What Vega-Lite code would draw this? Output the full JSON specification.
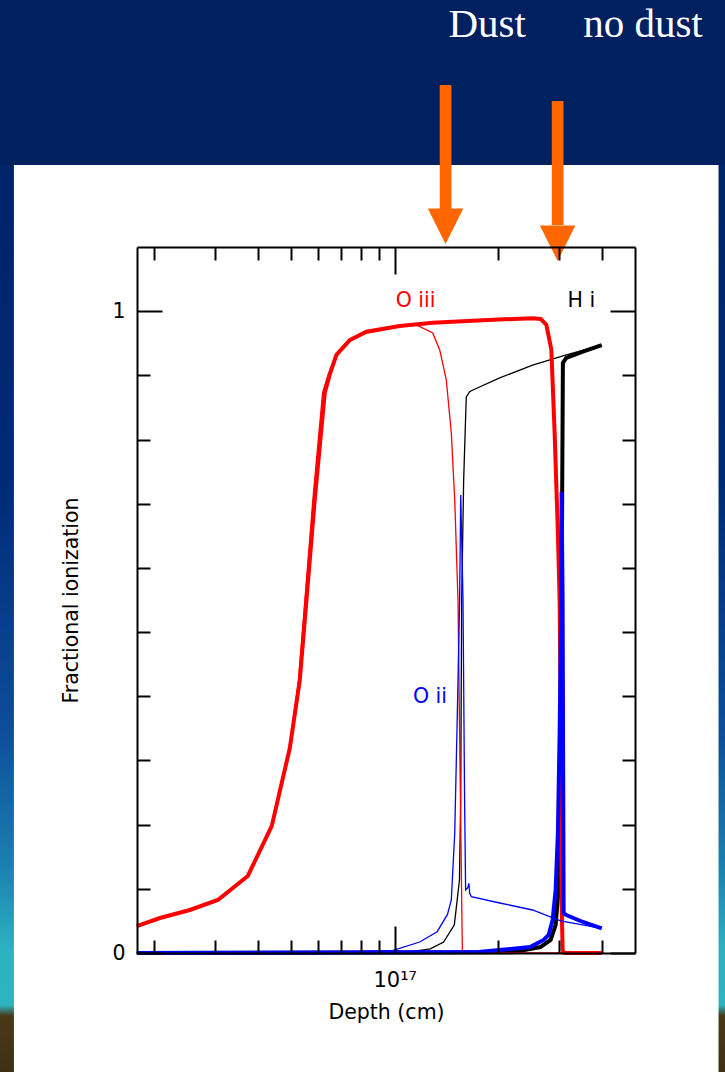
{
  "$schema": "https://vega.github.io/schema/vega-lite/v6.json",
  "width": 498,
  "height": 706,
  "autosize": {"type": "none"},
  "padding": {"left": 137, "top": 247, "right": 90, "bottom": 119},
  "background": "#002060",
  "config": {
    "view": {"stroke": null},
    "axis": {
      "grid": false,
      "tickColor": "black",
      "tickWidth": 2,
      "domainColor": "black",
      "domainWidth": 2,
      "labelFont": "DejaVu Sans",
      "labelFontSize": 20.5,
      "labelColor": "black",
      "titleFont": "DejaVu Sans",
      "titleFontSize": 20.5,
      "titleFontWeight": "normal",
      "titleColor": "black"
    }
  },
  "resolve": {"axis": {"x": "independent", "y": "independent"}},
  "datasets": {
    "curves": [
      {"species": "H i", "model": "no dust", "depth": 1.778e16, "frac": 0},
      {"species": "H i", "model": "no dust", "depth": 2.203e17, "frac": 0.0011},
      {"species": "H i", "model": "no dust", "depth": 2.654e17, "frac": 0.0093},
      {"species": "H i", "model": "no dust", "depth": 2.841e17, "frac": 0.0203},
      {"species": "H i", "model": "no dust", "depth": 2.938e17, "frac": 0.0436},
      {"species": "H i", "model": "no dust", "depth": 2.997e17, "frac": 0.0982},
      {"species": "H i", "model": "no dust", "depth": 3.038e17, "frac": 0.238},
      {"species": "H i", "model": "no dust", "depth": 3.058e17, "frac": 0.55},
      {"species": "H i", "model": "no dust", "depth": 3.085e17, "frac": 0.9193},
      {"species": "H i", "model": "no dust", "depth": 3.156e17, "frac": 0.9271},
      {"species": "H i", "model": "no dust", "depth": 3.527e17, "frac": 0.9369},
      {"species": "H i", "model": "no dust", "depth": 4e17, "frac": 0.947},

      {"species": "H i", "model": "dust", "depth": 1.778e16, "frac": 0},
      {"species": "H i", "model": "dust", "depth": 1.105e17, "frac": 0.0016},
      {"species": "H i", "model": "dust", "depth": 1.269e17, "frac": 0.0064},
      {"species": "H i", "model": "dust", "depth": 1.388e17, "frac": 0.0171},
      {"species": "H i", "model": "dust", "depth": 1.491e17, "frac": 0.0439},
      {"species": "H i", "model": "dust", "depth": 1.543e17, "frac": 0.1137},
      {"species": "H i", "model": "dust", "depth": 1.556e17, "frac": 0.238},
      {"species": "H i", "model": "dust", "depth": 1.566e17, "frac": 0.55},
      {"species": "H i", "model": "dust", "depth": 1.587e17, "frac": 0.737},
      {"species": "H i", "model": "dust", "depth": 1.615e17, "frac": 0.8663},
      {"species": "H i", "model": "dust", "depth": 1.652e17, "frac": 0.8746},
      {"species": "H i", "model": "dust", "depth": 1.689e17, "frac": 0.8772},
      {"species": "H i", "model": "dust", "depth": 2.02e17, "frac": 0.896},
      {"species": "H i", "model": "dust", "depth": 2.518e17, "frac": 0.916},
      {"species": "H i", "model": "dust", "depth": 3.156e17, "frac": 0.932},
      {"species": "H i", "model": "dust", "depth": 4e17, "frac": 0.947},

      {"species": "O iii", "model": "no dust", "depth": 1.778e16, "frac": 0.042},
      {"species": "O iii", "model": "no dust", "depth": 2.075e16, "frac": 0.0545},
      {"species": "O iii", "model": "no dust", "depth": 2.536e16, "frac": 0.067},
      {"species": "O iii", "model": "no dust", "depth": 3.059e16, "frac": 0.0826},
      {"species": "O iii", "model": "no dust", "depth": 3.739e16, "frac": 0.12},
      {"species": "O iii", "model": "no dust", "depth": 4.39e16, "frac": 0.198},
      {"species": "O iii", "model": "no dust", "depth": 4.952e16, "frac": 0.319},
      {"species": "O iii", "model": "no dust", "depth": 5.295e16, "frac": 0.425},
      {"species": "O iii", "model": "no dust", "depth": 5.538e16, "frac": 0.55},
      {"species": "O iii", "model": "no dust", "depth": 5.854e16, "frac": 0.706},
      {"species": "O iii", "model": "no dust", "depth": 6.26e16, "frac": 0.873},
      {"species": "O iii", "model": "no dust", "depth": 6.471e16, "frac": 0.901},
      {"species": "O iii", "model": "no dust", "depth": 6.769e16, "frac": 0.932},
      {"species": "O iii", "model": "no dust", "depth": 7.4e16, "frac": 0.955},
      {"species": "O iii", "model": "no dust", "depth": 8.274e16, "frac": 0.968},
      {"species": "O iii", "model": "no dust", "depth": 1.034e17, "frac": 0.977},
      {"species": "O iii", "model": "no dust", "depth": 1.29e17, "frac": 0.982},
      {"species": "O iii", "model": "no dust", "depth": 1.803e17, "frac": 0.986},
      {"species": "O iii", "model": "no dust", "depth": 2.518e17, "frac": 0.989},
      {"species": "O iii", "model": "no dust", "depth": 2.658e17, "frac": 0.988},
      {"species": "O iii", "model": "no dust", "depth": 2.761e17, "frac": 0.979},
      {"species": "O iii", "model": "no dust", "depth": 2.855e17, "frac": 0.94},
      {"species": "O iii", "model": "no dust", "depth": 2.919e17, "frac": 0.81},
      {"species": "O iii", "model": "no dust", "depth": 2.983e17, "frac": 0.654},
      {"species": "O iii", "model": "no dust", "depth": 3.018e17, "frac": 0.55},
      {"species": "O iii", "model": "no dust", "depth": 3.038e17, "frac": 0.394},
      {"species": "O iii", "model": "no dust", "depth": 3.058e17, "frac": 0.0826},
      {"species": "O iii", "model": "no dust", "depth": 3.079e17, "frac": 0.0047},
      {"species": "O iii", "model": "no dust", "depth": 3.12e17, "frac": 0},
      {"species": "O iii", "model": "no dust", "depth": 4e17, "frac": 0},

      {"species": "O iii", "model": "dust", "depth": 1.778e16, "frac": 0.042},
      {"species": "O iii", "model": "dust", "depth": 2.075e16, "frac": 0.0545},
      {"species": "O iii", "model": "dust", "depth": 2.536e16, "frac": 0.067},
      {"species": "O iii", "model": "dust", "depth": 3.059e16, "frac": 0.0826},
      {"species": "O iii", "model": "dust", "depth": 3.739e16, "frac": 0.12},
      {"species": "O iii", "model": "dust", "depth": 4.39e16, "frac": 0.198},
      {"species": "O iii", "model": "dust", "depth": 4.952e16, "frac": 0.319},
      {"species": "O iii", "model": "dust", "depth": 5.25e16, "frac": 0.425},
      {"species": "O iii", "model": "dust", "depth": 5.48e16, "frac": 0.55},
      {"species": "O iii", "model": "dust", "depth": 5.78e16, "frac": 0.706},
      {"species": "O iii", "model": "dust", "depth": 6.17e16, "frac": 0.873},
      {"species": "O iii", "model": "dust", "depth": 6.4e16, "frac": 0.901},
      {"species": "O iii", "model": "dust", "depth": 6.72e16, "frac": 0.93},
      {"species": "O iii", "model": "dust", "depth": 7.4e16, "frac": 0.953},
      {"species": "O iii", "model": "dust", "depth": 8.274e16, "frac": 0.966},
      {"species": "O iii", "model": "dust", "depth": 1.034e17, "frac": 0.976},
      {"species": "O iii", "model": "dust", "depth": 1.156e17, "frac": 0.9785},
      {"species": "O iii", "model": "dust", "depth": 1.29e17, "frac": 0.966},
      {"species": "O iii", "model": "dust", "depth": 1.352e17, "frac": 0.9396},
      {"species": "O iii", "model": "dust", "depth": 1.413e17, "frac": 0.8928},
      {"species": "O iii", "model": "dust", "depth": 1.461e17, "frac": 0.8102},
      {"species": "O iii", "model": "dust", "depth": 1.495e17, "frac": 0.706},
      {"species": "O iii", "model": "dust", "depth": 1.517e17, "frac": 0.601},
      {"species": "O iii", "model": "dust", "depth": 1.528e17, "frac": 0.55},
      {"species": "O iii", "model": "dust", "depth": 1.55e17, "frac": 0.277},
      {"species": "O iii", "model": "dust", "depth": 1.573e17, "frac": 0.0047},
      {"species": "O iii", "model": "dust", "depth": 1.587e17, "frac": 0},
      {"species": "O iii", "model": "dust", "depth": 4e17, "frac": 0},

      {"species": "O ii", "model": "dust", "depth": 1.778e16, "frac": 0},
      {"species": "O ii", "model": "dust", "depth": 5.534e16, "frac": 0},
      {"species": "O ii", "model": "dust", "depth": 9.847e16, "frac": 0.0037},
      {"species": "O ii", "model": "dust", "depth": 1.182e17, "frac": 0.0171},
      {"species": "O ii", "model": "dust", "depth": 1.329e17, "frac": 0.0332},
      {"species": "O ii", "model": "dust", "depth": 1.424e17, "frac": 0.0601},
      {"species": "O ii", "model": "dust", "depth": 1.461e17, "frac": 0.0826},
      {"species": "O ii", "model": "dust", "depth": 1.495e17, "frac": 0.187},
      {"species": "O ii", "model": "dust", "depth": 1.517e17, "frac": 0.343},
      {"species": "O ii", "model": "dust", "depth": 1.545e17, "frac": 0.55},
      {"species": "O ii", "model": "dust", "depth": 1.556e17, "frac": 0.7136},
      {"species": "O ii", "model": "dust", "depth": 1.58e17, "frac": 0.55},
      {"species": "O ii", "model": "dust", "depth": 1.597e17, "frac": 0.238},
      {"species": "O ii", "model": "dust", "depth": 1.608e17, "frac": 0.0982},
      {"species": "O ii", "model": "dust", "depth": 1.63e17, "frac": 0.1013},
      {"species": "O ii", "model": "dust", "depth": 1.644e17, "frac": 0.1086},
      {"species": "O ii", "model": "dust", "depth": 1.652e17, "frac": 0.0935},
      {"species": "O ii", "model": "dust", "depth": 1.671e17, "frac": 0.0877},
      {"species": "O ii", "model": "dust", "depth": 2.02e17, "frac": 0.0779},
      {"species": "O ii", "model": "dust", "depth": 2.518e17, "frac": 0.067},
      {"species": "O ii", "model": "dust", "depth": 3.038e17, "frac": 0.0499},
      {"species": "O ii", "model": "dust", "depth": 4e17, "frac": 0.0385},

      {"species": "O ii", "model": "no dust", "depth": 1.778e16, "frac": 0},
      {"species": "O ii", "model": "no dust", "depth": 1.752e17, "frac": 0.0016},
      {"species": "O ii", "model": "no dust", "depth": 2.475e17, "frac": 0.0093},
      {"species": "O ii", "model": "no dust", "depth": 2.711e17, "frac": 0.0203},
      {"species": "O ii", "model": "no dust", "depth": 2.804e17, "frac": 0.028},
      {"species": "O ii", "model": "no dust", "depth": 2.88e17, "frac": 0.0514},
      {"species": "O ii", "model": "no dust", "depth": 2.938e17, "frac": 0.0982},
      {"species": "O ii", "model": "no dust", "depth": 2.983e17, "frac": 0.187},
      {"species": "O ii", "model": "no dust", "depth": 3.018e17, "frac": 0.343},
      {"species": "O ii", "model": "no dust", "depth": 3.052e17, "frac": 0.55},
      {"species": "O ii", "model": "no dust", "depth": 3.058e17, "frac": 0.7183},
      {"species": "O ii", "model": "no dust", "depth": 3.079e17, "frac": 0.55},
      {"species": "O ii", "model": "no dust", "depth": 3.1e17, "frac": 0.0623},
      {"species": "O ii", "model": "no dust", "depth": 3.156e17, "frac": 0.0592},
      {"species": "O ii", "model": "no dust", "depth": 3.527e17, "frac": 0.0483},
      {"species": "O ii", "model": "no dust", "depth": 4e17, "frac": 0.0385}
    ],
    "labels": [
      {"species": "O iii", "depth": 1.0067e17, "frac": 1.0159},
      {"species": "H i", "depth": 3.184e17, "frac": 1.0159},
      {"species": "O ii", "depth": 1.13e17, "frac": 0.3993}
    ],
    "arrows": [
      {"case": "Dust", "depth": 1.406e17, "top": 1.3525, "head": 1.1592, "tip": 1.1047},
      {"case": "no dust", "depth": 2.978e17, "top": 1.3275, "head": 1.1343, "tip": 1.0782}
    ],
    "header": [
      {"text": "Dust", "depth": 1.857e17, "level": 1.4277},
      {"text": "no dust", "depth": 5.273e17, "level": 1.4277}
    ]
  },
  "layer": [
    {
      "data": {"values": [{}]},
      "mark": {"type": "rect", "color": {"gradient": "linear", "x1": 0, "y1": 0, "x2": 0, "y2": 1, "stops": [
        {"offset": 0, "color": "#002060"},
        {"offset": 0.45, "color": "#002a78"},
        {"offset": 0.68, "color": "#0d4d9c"},
        {"offset": 0.8, "color": "#1a7fb0"},
        {"offset": 0.88, "color": "#2bb3c0"},
        {"offset": 0.93, "color": "#2bb5c0"},
        {"offset": 0.94, "color": "#4a3818"},
        {"offset": 1, "color": "#3d2f14"}
      ]}},
      "encoding": {
        "x": {"datum": 5e15, "type": "quantitative", "scale": {"type": "log", "domain": [1.78e16, 5e17], "nice": false}, "axis": null},
        "x2": {"datum": 1e18},
        "y": {"datum": 1.5, "type": "quantitative", "scale": {"domain": [0, 1.1], "nice": false, "zero": false}, "axis": null},
        "y2": {"datum": -0.2}
      }
    },
    {
      "data": {"values": [{}]},
      "mark": {"type": "rect", "color": "#002060"},
      "encoding": {
        "x": {"datum": 5e15, "type": "quantitative", "scale": {"type": "log", "domain": [1.78e16, 5e17], "nice": false}, "axis": null},
        "x2": {"datum": 1e18},
        "y": {"datum": 1.5, "type": "quantitative", "scale": {"domain": [0, 1.1], "nice": false, "zero": false}, "axis": null},
        "y2": {"datum": 1.2278}
      }
    },
    {
      "data": {"values": [{}]},
      "mark": {"type": "rect", "color": "white"},
      "encoding": {
        "x": {"datum": 7.806e15, "type": "quantitative", "scale": {"type": "log", "domain": [1.78e16, 5e17], "nice": false}, "axis": null},
        "x2": {"datum": 8.749e17},
        "y": {"datum": 1.2278, "type": "quantitative", "scale": {"domain": [0, 1.1], "nice": false, "zero": false}, "axis": null},
        "y2": {"datum": -0.3}
      }
    },
    {
      "data": {"name": "curves"},
      "transform": [{"filter": "datum.species === 'H i'"}],
      "mark": {"type": "line", "interpolate": "linear"},
      "encoding": {
        "x": {"field": "depth", "type": "quantitative", "scale": {"type": "log", "domain": [1.78e16, 5e17], "nice": false},
          "axis": {"orient": "bottom", "zindex": 2, "values": [2e16, 3e16, 4e16, 5e16, 6e16, 7e16, 8e16, 9e16, 2e17, 3e17, 4e17], "tickSize": -13, "labels": false, "title": null, "domain": true}},
        "y": {"field": "frac", "type": "quantitative", "scale": {"domain": [0, 1.1], "nice": false, "zero": false},
          "axis": {"orient": "left", "zindex": 2, "values": [0.1, 0.2, 0.3, 0.4, 0.5, 0.6, 0.7, 0.8, 0.9], "tickSize": -13, "labels": false, "title": null, "domain": true}},
        "color": {"field": "species", "type": "nominal", "scale": {"domain": ["H i", "O iii", "O ii"], "range": ["#000000", "#ff0000", "#0000ff"]}, "legend": null},
        "strokeWidth": {"field": "model", "type": "nominal", "scale": {"domain": ["dust", "no dust"], "range": [1.3, 4]}, "legend": null}
      }
    },
    {
      "data": {"name": "curves"},
      "transform": [{"filter": "datum.species === 'O iii'"}],
      "mark": {"type": "line", "interpolate": "linear"},
      "encoding": {
        "x": {"field": "depth", "type": "quantitative", "scale": {"type": "log", "domain": [1.78e16, 5e17], "nice": false},
          "axis": {"orient": "bottom", "zindex": 2, "values": [1e17], "tickSize": -27, "labelExpr": "'10¹⁷'", "labelPadding": 43, "labelFontSize": 21, "title": "Depth (cm)", "titlePadding": 12, "domain": false}},
        "y": {"field": "frac", "type": "quantitative", "scale": {"domain": [0, 1.1], "nice": false, "zero": false},
          "axis": {"orient": "left", "zindex": 2, "values": [0, 1], "tickSize": -25, "format": "d", "labelPadding": 37, "title": "Fractional ionization", "titlePadding": 30, "domain": false}},
        "color": {"field": "species", "type": "nominal", "scale": {"domain": ["H i", "O iii", "O ii"], "range": ["#000000", "#ff0000", "#0000ff"]}, "legend": null},
        "strokeWidth": {"field": "model", "type": "nominal", "scale": {"domain": ["dust", "no dust"], "range": [1.3, 4]}, "legend": null}
      }
    },
    {
      "data": {"name": "curves"},
      "transform": [{"filter": "datum.species === 'O ii'"}],
      "mark": {"type": "line", "interpolate": "linear"},
      "encoding": {
        "x": {"field": "depth", "type": "quantitative", "scale": {"type": "log", "domain": [1.78e16, 5e17], "nice": false},
          "axis": {"orient": "top", "zindex": 2, "values": [2e16, 3e16, 4e16, 5e16, 6e16, 7e16, 8e16, 9e16, 2e17, 3e17, 4e17], "tickSize": -13, "labels": false, "title": null, "domain": true}},
        "y": {"field": "frac", "type": "quantitative", "scale": {"domain": [0, 1.1], "nice": false, "zero": false},
          "axis": {"orient": "right", "zindex": 2, "values": [0.1, 0.2, 0.3, 0.4, 0.5, 0.6, 0.7, 0.8, 0.9], "tickSize": -13, "labels": false, "title": null, "domain": true}},
        "color": {"field": "species", "type": "nominal", "scale": {"domain": ["H i", "O iii", "O ii"], "range": ["#000000", "#ff0000", "#0000ff"]}, "legend": null},
        "strokeWidth": {"field": "model", "type": "nominal", "scale": {"domain": ["dust", "no dust"], "range": [1.3, 4]}, "legend": null}
      }
    },
    {
      "data": {"name": "labels"},
      "mark": {"type": "text", "align": "left", "baseline": "middle", "font": "DejaVu Sans", "fontSize": 20.5},
      "encoding": {
        "x": {"field": "depth", "type": "quantitative", "scale": {"type": "log", "domain": [1.78e16, 5e17], "nice": false},
          "axis": {"orient": "top", "zindex": 2, "values": [1e17], "tickSize": -27, "labels": false, "title": null, "domain": false}},
        "y": {"field": "frac", "type": "quantitative", "scale": {"domain": [0, 1.1], "nice": false, "zero": false},
          "axis": {"orient": "right", "zindex": 2, "values": [0, 1], "tickSize": -25, "labels": false, "title": null, "domain": false}},
        "text": {"field": "species"},
        "color": {"field": "species", "type": "nominal", "scale": {"domain": ["H i", "O iii", "O ii"], "range": ["#000000", "#ff0000", "#0000ff"]}, "legend": null}
      }
    },
    {
      "data": {"name": "arrows"},
      "mark": {"type": "rule", "color": "#ff6600", "strokeWidth": 11.7, "strokeCap": "butt"},
      "encoding": {
        "x": {"field": "depth", "type": "quantitative", "scale": {"type": "log", "domain": [1.78e16, 5e17], "nice": false}, "axis": null},
        "y": {"field": "top", "type": "quantitative", "scale": {"domain": [0, 1.1], "nice": false, "zero": false}, "axis": null},
        "y2": {"field": "head"}
      }
    },
    {
      "data": {"name": "arrows"},
      "mark": {"type": "point", "shape": "M-1,-2L1,-2L0,0Z", "size": 1260, "filled": true, "opacity": 1, "color": "#ff6600", "strokeWidth": 0},
      "encoding": {
        "x": {"field": "depth", "type": "quantitative", "scale": {"type": "log", "domain": [1.78e16, 5e17], "nice": false}, "axis": null},
        "y": {"field": "tip", "type": "quantitative", "scale": {"domain": [0, 1.1], "nice": false, "zero": false}, "axis": null}
      }
    },
    {
      "data": {"name": "header"},
      "mark": {"type": "text", "align": "center", "baseline": "alphabetic", "font": "Liberation Serif", "fontSize": 41, "color": "white"},
      "encoding": {
        "x": {"field": "depth", "type": "quantitative", "scale": {"type": "log", "domain": [1.78e16, 5e17], "nice": false}, "axis": null},
        "y": {"field": "level", "type": "quantitative", "scale": {"domain": [0, 1.1], "nice": false, "zero": false}, "axis": null},
        "text": {"field": "text"}
      }
    }
  ]
}
